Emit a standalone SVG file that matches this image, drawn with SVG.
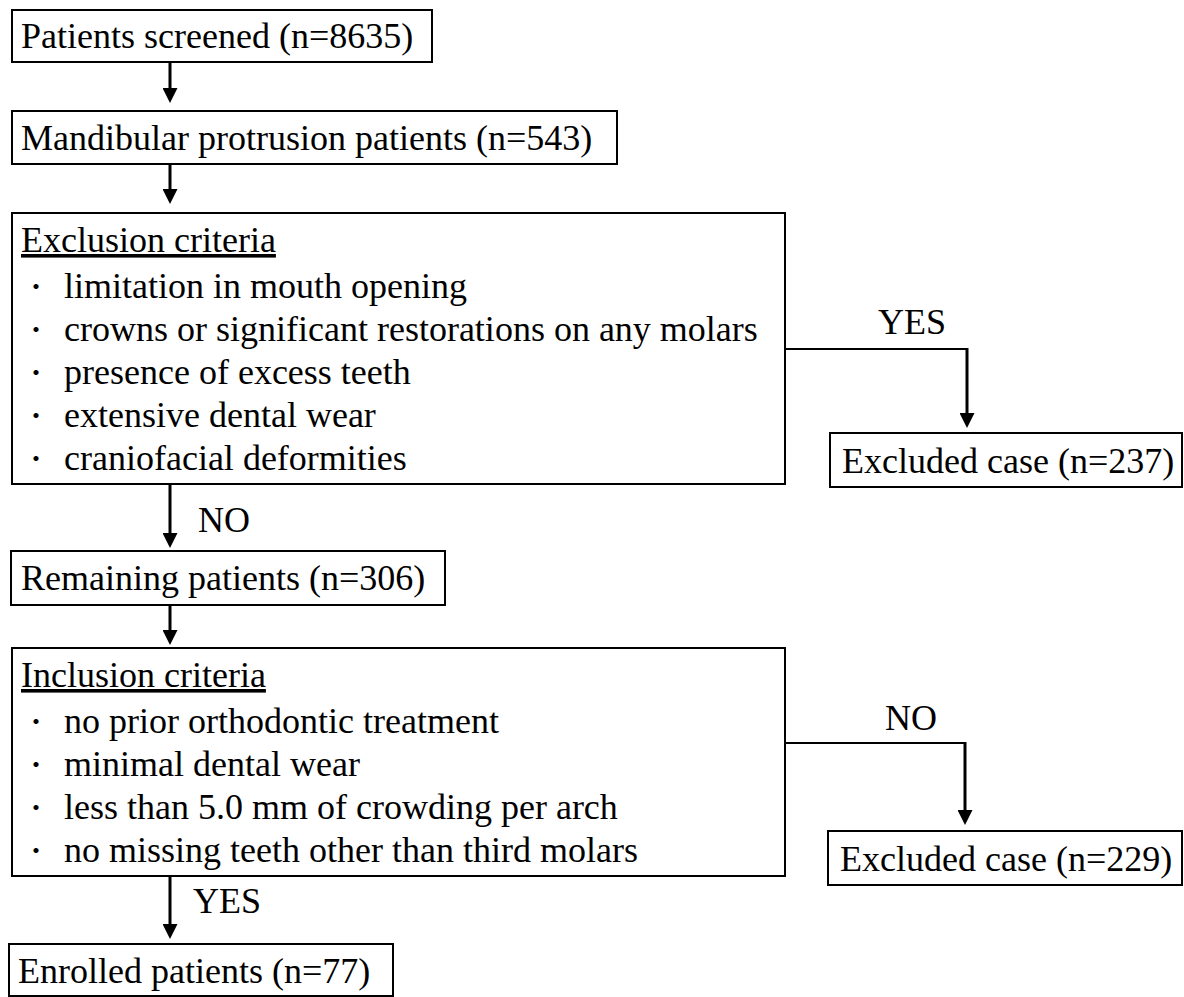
<svg xmlns="http://www.w3.org/2000/svg" width="1184" height="997" viewBox="0 0 1184 997">
<style>
  .t { font-family: "Liberation Serif", "Times New Roman", Times, "DejaVu Serif", serif; font-size: 36px; fill: #000; }
  .dot { font-family: "Noto Sans CJK JP", "Noto Sans CJK SC", sans-serif; font-size: 24px; fill: #000; text-anchor: middle; }
  .box { fill: #fff; stroke: #000; stroke-width: 2; }
  .shaft { stroke: #000; stroke-width: 3; fill: none; }
  .thin { stroke: #000; stroke-width: 2; fill: none; }
  .mid { text-anchor: middle; }
</style>
<defs>
  <marker id="ah" markerWidth="15" markerHeight="15" refX="7" refY="7.5" orient="auto" markerUnits="userSpaceOnUse">
    <path d="M0,0 L15,7.5 L0,15 z" fill="#000"/>
  </marker>
</defs>
<rect width="1184" height="997" fill="#fff"/>

<g id="connectors">
  <line class="shaft" x1="170" y1="62" x2="170" y2="95" marker-end="url(#ah)"/>
  <line class="shaft" x1="170" y1="164" x2="170" y2="196" marker-end="url(#ah)"/>
  <line class="shaft" x1="170" y1="484" x2="170" y2="540" marker-end="url(#ah)"/>
  <line class="shaft" x1="170" y1="605" x2="170" y2="637" marker-end="url(#ah)"/>
  <line class="shaft" x1="170" y1="876" x2="170" y2="931" marker-end="url(#ah)"/>
  <line class="thin" x1="785" y1="349" x2="968" y2="349"/>
  <line class="shaft" x1="967" y1="348" x2="967" y2="420" marker-end="url(#ah)"/>
  <line class="thin" x1="785" y1="743" x2="966" y2="743"/>
  <line class="shaft" x1="965" y1="742" x2="965" y2="817" marker-end="url(#ah)"/>
  <text class="t" x="198" y="532" font-family="Liberation Serif, serif">NO</text>
  <text class="t mid" x="912" y="334" font-family="Liberation Serif, serif">YES</text>
  <text class="t mid" x="911" y="730" font-family="Liberation Serif, serif">NO</text>
  <text class="t" x="193" y="913" font-family="Liberation Serif, serif">YES</text>
</g>

<g id="screened">
  <rect class="box" x="12" y="10" width="420" height="52"/>
  <text class="t" x="21" y="48">Patients screened (n=8635)</text>
</g>

<g id="mandibular">
  <rect class="box" x="12" y="111" width="605" height="53"/>
  <text class="t" x="21" y="150">Mandibular protrusion patients (n=543)</text>
</g>

<g id="exclusion">
  <rect class="box" x="12" y="213" width="773" height="271"/>
  <text class="t" x="21" y="252" text-decoration="underline">Exclusion criteria</text>
  <text class="dot" x="36" y="295">・</text>
  <text class="t" x="64" y="298">limitation in mouth opening</text>
  <text class="dot" x="36" y="338">・</text>
  <text class="t" x="64" y="341">crowns or significant restorations on any molars</text>
  <text class="dot" x="36" y="381">・</text>
  <text class="t" x="64" y="384">presence of excess teeth</text>
  <text class="dot" x="36" y="424">・</text>
  <text class="t" x="64" y="427">extensive dental wear</text>
  <text class="dot" x="36" y="467">・</text>
  <text class="t" x="64" y="470">craniofacial deformities</text>
</g>

<g id="excluded1">
  <rect class="box" x="830" y="433" width="352" height="54"/>
  <text class="t" x="842" y="473">Excluded case (n=237)</text>
</g>

<g id="remaining">
  <rect class="box" x="11" y="551" width="434" height="54"/>
  <text class="t" x="21" y="590">Remaining patients (n=306)</text>
</g>

<g id="inclusion">
  <rect class="box" x="12" y="648" width="773" height="228"/>
  <text class="t" x="21" y="687" text-decoration="underline">Inclusion criteria</text>
  <text class="dot" x="36" y="730">・</text>
  <text class="t" x="64" y="733">no prior orthodontic treatment</text>
  <text class="dot" x="36" y="773">・</text>
  <text class="t" x="64" y="776">minimal dental wear</text>
  <text class="dot" x="36" y="816">・</text>
  <text class="t" x="64" y="819">less than 5.0 mm of crowding per arch</text>
  <text class="dot" x="36" y="859">・</text>
  <text class="t" x="64" y="862">no missing teeth other than third molars</text>
</g>

<g id="excluded2">
  <rect class="box" x="828" y="831" width="354" height="54"/>
  <text class="t" x="840" y="871">Excluded case (n=229)</text>
</g>

<g id="enrolled">
  <rect class="box" x="9" y="944" width="384" height="52"/>
  <text class="t" x="18" y="983">Enrolled patients (n=77)</text>
</g>
</svg>
